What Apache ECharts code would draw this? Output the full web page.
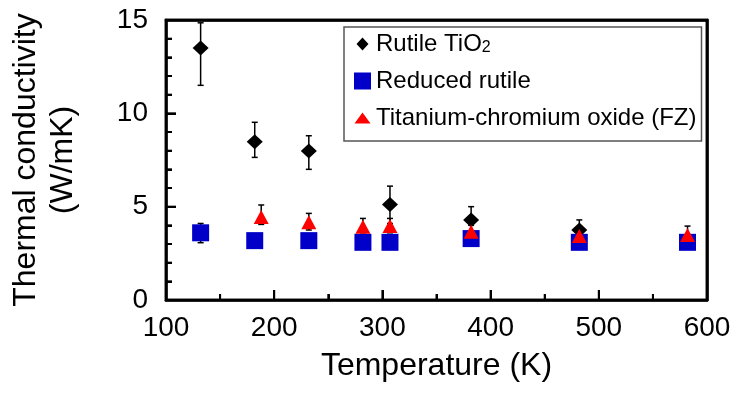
<!DOCTYPE html>
<html>
<head>
<meta charset="utf-8">
<script src="https://cdn.jsdelivr.net/npm/echarts@6/dist/echarts.min.js"></script>
<style>
html,body{margin:0;padding:0;background:#fff;}
#chart{width:738px;height:395px;}
</style>
</head>
<body>
<div id="chart"></div>
<script>
// Data
var seriesNames = ['Rutile TiO2', 'Reduced rutile', 'Titanium-chromium oxide (FZ)'];
// Rutile TiO2
var rutileT    = [132, 182, 232, 307, 382, 482];
var rutileK    = [13.5, 8.48, 7.98, 5.12, 4.28, 3.75];
var rutileLow  = [11.5, 7.64, 7.0, 4.1, 3.6, 2.77];
var rutileHigh = [14.85, 9.52, 8.8, 6.1, 5.0, 4.29];
// Reduced rutile
var reducedT    = [132, 182, 232, 282, 307, 382, 482, 582];
var reducedK    = [3.6, 3.18, 3.18, 3.09, 3.09, 3.29, 3.09, 3.09];
var reducedLow  = [3.07, 2.9, 2.9, 2.85, 2.85, 3.05, 2.85, 2.85];
var reducedHigh = [4.1, 3.45, 3.45, 3.35, 3.35, 3.55, 3.35, 3.35];
// Titanium-chromium oxide (FZ)
var tcoT    = [188, 232, 282, 307, 382, 482, 582];
var tcoK    = [4.44, 4.16, 3.93, 3.96, 3.66, 3.43, 3.48];
var tcoLow  = [4.05, 3.75, 3.6, 3.6, 3.35, 3.1, 3.1];
var tcoHigh = [5.09, 4.64, 4.37, 4.37, 4.0, 3.8, 3.96];
// Tick values
var xMajorTicks = [100, 200, 300, 400, 500, 600];
var xMinorTicks = [150, 250, 350, 450, 550];
var yMajorTicks = [0, 5, 10, 15];
var yMinorTicks = [1, 2, 3, 4, 6, 7, 8, 9, 11, 12, 13, 14];

function zip2(a, b) { return a.map(function (v, i) { return [v, b[i]]; }); }
function zip3(a, b, c) { return a.map(function (v, i) { return [v, b[i], c[i]]; }); }

var errData = zip3(rutileT, rutileLow, rutileHigh)
  .concat(zip3(reducedT, reducedLow, reducedHigh))
  .concat(zip3(tcoT, tcoLow, tcoHigh));

var ST = { stroke: '#000', lineWidth: 1.5 };
var TST = { stroke: '#000', lineWidth: 2 };

function renderErr(params, api) {
  var x = api.value(0), lo = api.value(1), hi = api.value(2);
  var p1 = api.coord([x, hi]);
  var p2 = api.coord([x, lo]);
  var cw = 3;
  return {
    type: 'group',
    children: [
      { type: 'line', shape: { x1: p1[0], y1: p1[1], x2: p2[0], y2: p2[1] }, style: ST },
      { type: 'line', shape: { x1: p1[0] - cw, y1: p1[1], x2: p1[0] + cw, y2: p1[1] }, style: ST },
      { type: 'line', shape: { x1: p2[0] - cw, y1: p2[1], x2: p2[0] + cw, y2: p2[1] }, style: ST }
    ]
  };
}

// inside tick marks and frame, positioned through the axis scales
function renderTicks(params, api) {
  var x0 = api.coord([100, 0]), x1 = api.coord([600, 15]);
  var left = x0[0], bottom = x0[1], right = x1[0], top = x1[1];
  var kids = [];
  function xt(v, len) {
    var px = api.coord([v, 0])[0];
    kids.push({ type: 'line', shape: { x1: px, y1: bottom, x2: px, y2: bottom - len }, style: TST });
  }
  function yt(v, len) {
    var py = api.coord([100, v])[1];
    kids.push({ type: 'line', shape: { x1: left, y1: py, x2: left + len, y2: py }, style: TST });
  }
  xMajorTicks.forEach(function (v) { xt(v, 10); });
  xMinorTicks.forEach(function (v) { xt(v, 6); });
  yMajorTicks.forEach(function (v) { yt(v, 10); });
  yMinorTicks.forEach(function (v) { yt(v, 6); });
  kids.push({ type: 'rect', shape: { x: left, y: top, width: right - left, height: bottom - top },
    style: { fill: null, stroke: '#000', lineWidth: 2.5 } });
  return { type: 'group', children: kids };
}

var FONT = 'Liberation Sans, Arial, sans-serif';
var diamondIcon = 'path://M0,0L0,0.001ZM17,17L17,16.999ZM8.5,2L14.5,8.5L8.5,15L2.5,8.5Z';
var triIcon = 'path://M0,0L0,0.001ZM17,17L17,16.999ZM8.5,3L16.5,14L0.5,14Z';

var chart = echarts.init(document.getElementById('chart'));
chart.setOption({
  animation: false,
  backgroundColor: '#fff',
  grid: { left: 149, right: 31, top: 20, bottom: 95, show: true, borderColor: '#000', borderWidth: 2.5, backgroundColor: 'rgba(0,0,0,0)' },
  xAxis: [{
    type: 'value', min: 100, max: 600, interval: 100,
    name: 'Temperature (K)', nameLocation: 'middle', nameGap: 50,
    nameTextStyle: { fontSize: 32, color: '#000', fontFamily: FONT },
    axisLine: { show: true, onZero: false, lineStyle: { color: '#000', width: 2.5 } },
    axisTick: { show: true, inside: true, length: 10, lineStyle: { color: '#000', width: 2 } },
    minorTick: { show: true, splitNumber: 2, length: 6, lineStyle: { color: '#000', width: 2 } },
    splitLine: { show: false },
    axisLabel: { fontSize: 28, color: '#000', fontFamily: FONT, margin: 14 }
  }, {
    type: 'value', min: 100, max: 600, position: 'top',
    axisLine: { show: true, onZero: false, lineStyle: { color: '#000', width: 2.5 } },
    axisTick: { show: false }, axisLabel: { show: false }, splitLine: { show: false }
  }],
  yAxis: [{
    type: 'value', min: 0, max: 15, interval: 5,
    name: 'Thermal conductivity\n(W/mK)', nameLocation: 'middle', nameGap: 84,
    nameTextStyle: { fontSize: 32, color: '#000', fontFamily: FONT, lineHeight: 37 },
    axisLine: { show: true, onZero: false, lineStyle: { color: '#000', width: 2.5 } },
    axisTick: { show: true, inside: true, length: 10, lineStyle: { color: '#000', width: 2 } },
    minorTick: { show: true, splitNumber: 5, length: 6, lineStyle: { color: '#000', width: 2 } },
    splitLine: { show: false },
    axisLabel: { fontSize: 28, color: '#000', fontFamily: FONT, margin: 18 }
  }, {
    type: 'value', min: 0, max: 15, position: 'right',
    axisLine: { show: true, onZero: false, lineStyle: { color: '#000', width: 2.5 } },
    axisTick: { show: false }, axisLabel: { show: false }, splitLine: { show: false }
  }],
  legend: {
    orient: 'vertical', left: 344, top: 27,
    padding: [5, 5, 11, 10], itemGap: 13,
    itemWidth: 17, itemHeight: 17,
    borderColor: '#555', borderWidth: 1.5, borderRadius: 0,
    backgroundColor: '#fff',
    textStyle: { fontSize: 24, color: '#000', fontFamily: FONT,
      rich: {
        n: { fontSize: 24, color: '#000', fontFamily: FONT },
        s: { fontSize: 16, color: '#000', fontFamily: FONT, verticalAlign: 'bottom', padding: [6, 0, 0, 0] }
      } },
    formatter: function (name) {
      return name === 'Rutile TiO2' ? '{n|Rutile TiO}{s|2}' : name;
    },
    data: [
      { name: seriesNames[0], icon: diamondIcon },
      { name: seriesNames[1], icon: 'rect' },
      { name: seriesNames[2], icon: triIcon }
    ]
  },
  series: [
    {
      name: 'ticks', type: 'custom', renderItem: renderTicks,
      data: [[300, 7]], encode: { x: 0, y: 1 }, z: 1, silent: true, clip: false
    },
    {
      name: 'errors', type: 'custom', renderItem: renderErr,
      encode: { x: 0, y: [1, 2] }, data: errData, z: 1, silent: true
    },
    {
      name: seriesNames[0], type: 'scatter', symbol: 'diamond', symbolSize: [16, 15],
      itemStyle: { color: '#000', opacity: 1 }, data: zip2(rutileT, rutileK), z: 2
    },
    {
      name: seriesNames[1], type: 'scatter', symbol: 'rect', symbolSize: [17, 17],
      itemStyle: { color: '#0000c8', opacity: 1 }, data: zip2(reducedT, reducedK), z: 3
    },
    {
      name: seriesNames[2], type: 'scatter', symbol: 'triangle', symbolSize: [15, 14],
      itemStyle: { color: '#ff0000', opacity: 1 }, data: zip2(tcoT, tcoK), z: 4
    }
  ]
});
</script>
</body>
</html>
